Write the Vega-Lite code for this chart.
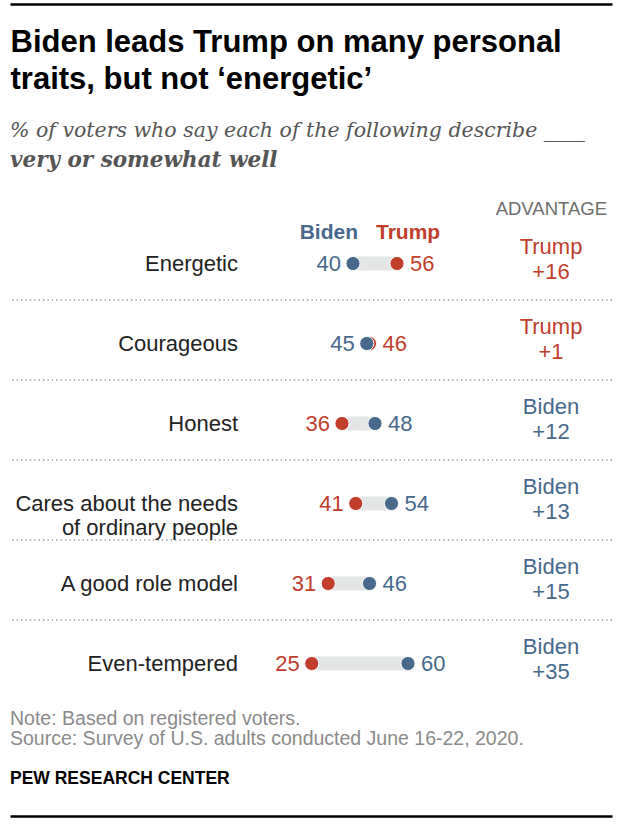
{
  "$schema": "https://vega.github.io/schema/vega-lite/v6.json",
  "background": "white",
  "padding": {"left": 9, "right": 8, "top": 4, "bottom": 8},
  "bounds": "flush",
  "spacing": 116,
  "config": {"font": "Liberation Sans", "view": {"stroke": null}},
  "datasets": {
    "pct": [
      {"trait": "Energetic", "candidate": "Trump", "pct": 56},
      {"trait": "Energetic", "candidate": "Biden", "pct": 40},
      {"trait": "Courageous", "candidate": "Trump", "pct": 46},
      {"trait": "Courageous", "candidate": "Biden", "pct": 45},
      {"trait": "Honest", "candidate": "Trump", "pct": 36},
      {"trait": "Honest", "candidate": "Biden", "pct": 48},
      {"trait": "Cares about the needs\nof ordinary people", "candidate": "Trump", "pct": 41},
      {"trait": "Cares about the needs\nof ordinary people", "candidate": "Biden", "pct": 54},
      {"trait": "A good role model", "candidate": "Trump", "pct": 31},
      {"trait": "A good role model", "candidate": "Biden", "pct": 46},
      {"trait": "Even-tempered", "candidate": "Trump", "pct": 25},
      {"trait": "Even-tempered", "candidate": "Biden", "pct": 60}
    ],
    "adv": [
      {"trait": "Energetic", "leader": "Trump", "lead": 16},
      {"trait": "Courageous", "leader": "Trump", "lead": 1},
      {"trait": "Honest", "leader": "Biden", "lead": 12},
      {"trait": "Cares about the needs\nof ordinary people", "leader": "Biden", "lead": 13},
      {"trait": "A good role model", "leader": "Biden", "lead": 15},
      {"trait": "Even-tempered", "leader": "Biden", "lead": 35}
    ]
  },
  "vconcat": [
    {
      "width": 602,
      "height": 100,
      "data": {"name": "pct"},
      "mark": {"type": "point", "opacity": 0},
      "encoding": {
        "x": {
          "field": "pct",
          "type": "quantitative",
          "axis": {
            "orient": "top",
            "domain": true,
            "domainColor": "#000000",
            "domainWidth": 2.5,
            "ticks": false,
            "labels": false,
            "grid": false,
            "title": ["Biden leads Trump on many personal", "traits, but not ‘energetic’"],
            "titleFont": "Liberation Sans",
            "titleFontSize": 31,
            "titleFontWeight": "bold",
            "titleColor": "#000000",
            "titleAlign": "left",
            "titleAnchor": "start",
            "titleBaseline": "top",
            "titleX": 0,
            "titleY": 23,
            "titleLineHeight": 37,
            "titleLimit": 1000
          }
        }
      },
      "title": {
        "text": "% of voters who say each of the following describe ____",
        "subtitle": "very or somewhat well",
        "orient": "bottom",
        "anchor": "start",
        "frame": "group",
        "offset": 17,
        "font": "DejaVu Serif",
        "fontSize": 20.5,
        "fontStyle": "italic",
        "fontWeight": "normal",
        "color": "#555555",
        "subtitleFont": "DejaVu Serif",
        "subtitleFontSize": 21.5,
        "subtitleFontStyle": "italic",
        "subtitleFontWeight": "bold",
        "subtitleColor": "#555555",
        "subtitlePadding": 8,
        "limit": 1000
      }
    },
    {
      "width": 602,
      "height": 480,
      "title": {
        "text": "ADVANTAGE",
        "orient": "top",
        "anchor": "end",
        "frame": "group",
        "dx": -5,
        "offset": 2,
        "font": "Liberation Sans",
        "fontSize": 18.5,
        "fontWeight": "normal",
        "color": "#6d6d6d"
      },
      "encoding": {
        "y": {
          "field": "trait",
          "type": "nominal",
          "sort": null,
          "scale": {
            "domain": ["Energetic", "Courageous", "Honest", "Cares about the needs\nof ordinary people", "A good role model", "Even-tempered"],
            "paddingInner": 0,
            "paddingOuter": 0
          },
          "axis": null
        }
      },
      "layer": [
        {
          "data": {"name": "adv"},
          "transform": [{"filter": "datum.trait != 'Even-tempered'"}],
          "mark": {"type": "rule", "color": "#999999", "strokeWidth": 1.4, "strokeDash": [1.4, 3]},
          "encoding": {
            "y": {
              "field": "trait",
              "type": "nominal",
              "sort": null,
              "bandPosition": 1,
              "axis": null
            }
          }
        },
        {
          "data": {"name": "pct"},
          "mark": {"type": "rule", "color": "#e3e5e6", "strokeWidth": 14, "yOffset": 3.5},
          "encoding": {
            "x": {
              "aggregate": "min",
              "field": "pct",
              "type": "quantitative",
              "scale": {"domain": [-84.73, 134.18], "nice": false, "zero": false},
              "axis": null
            },
            "x2": {"aggregate": "max", "field": "pct"}
          }
        },
        {
          "data": {"name": "pct"},
          "mark": {"type": "circle", "size": 200, "opacity": 1, "stroke": "white", "strokeWidth": 1, "yOffset": 3.5},
          "encoding": {
            "x": {"field": "pct", "type": "quantitative", "axis": null},
            "color": {
              "field": "candidate",
              "type": "nominal",
              "scale": {"domain": ["Biden", "Trump"], "range": ["#46698c", "#c13d2c"]},
              "legend": null
            }
          }
        },
        {
          "data": {"name": "pct"},
          "transform": [
            {"joinaggregate": [{"op": "min", "field": "pct", "as": "lo"}], "groupby": ["trait"]},
            {"filter": "datum.pct == datum.lo"}
          ],
          "mark": {"type": "text", "align": "right", "baseline": "middle", "dx": -12, "dy": 4, "fontSize": 22},
          "encoding": {
            "x": {"field": "pct", "type": "quantitative", "axis": null},
            "text": {"field": "pct", "type": "quantitative"},
            "color": {"field": "candidate", "type": "nominal", "legend": null}
          }
        },
        {
          "data": {"name": "pct"},
          "transform": [
            {"joinaggregate": [{"op": "max", "field": "pct", "as": "hi"}], "groupby": ["trait"]},
            {"filter": "datum.pct == datum.hi"}
          ],
          "mark": {"type": "text", "align": "left", "baseline": "middle", "dx": 13, "dy": 4, "fontSize": 22},
          "encoding": {
            "x": {"field": "pct", "type": "quantitative", "axis": null},
            "text": {"field": "pct", "type": "quantitative"},
            "color": {"field": "candidate", "type": "nominal", "legend": null}
          }
        },
        {
          "data": {"name": "adv"},
          "mark": {"type": "text", "align": "right", "baseline": "middle", "dx": -5, "dy": 3.5, "fontSize": 22, "color": "#222222", "lineBreak": "\n", "lineHeight": 24},
          "encoding": {
            "x": {"datum": 0, "type": "quantitative", "axis": null},
            "text": {"field": "trait", "type": "nominal"}
          }
        },
        {
          "data": {"name": "adv"},
          "mark": {"type": "text", "align": "center", "baseline": "middle", "dy": -13, "fontSize": 22},
          "encoding": {
            "x": {"datum": 112, "type": "quantitative", "axis": null},
            "text": {"field": "leader", "type": "nominal"},
            "color": {"field": "leader", "type": "nominal", "legend": null}
          }
        },
        {
          "data": {"name": "adv"},
          "mark": {"type": "text", "align": "center", "baseline": "middle", "dy": 12, "fontSize": 22},
          "encoding": {
            "x": {"datum": 112, "type": "quantitative", "axis": null},
            "text": {"field": "lead", "type": "quantitative", "format": "+d"},
            "color": {"field": "leader", "type": "nominal", "legend": null}
          }
        },
        {
          "data": {"name": "pct"},
          "transform": [{"filter": "datum.trait == 'Energetic' && datum.candidate == 'Biden'"}],
          "mark": {"type": "text", "align": "right", "baseline": "middle", "dx": 5, "dy": -27, "fontSize": 21, "fontWeight": "bold"},
          "encoding": {
            "x": {"field": "pct", "type": "quantitative", "axis": null},
            "text": {"field": "candidate", "type": "nominal"},
            "color": {"field": "candidate", "type": "nominal", "legend": null}
          }
        },
        {
          "data": {"name": "pct"},
          "transform": [{"filter": "datum.trait == 'Energetic' && datum.candidate == 'Trump'"}],
          "mark": {"type": "text", "align": "left", "baseline": "middle", "dx": -21, "dy": -27, "fontSize": 21, "fontWeight": "bold"},
          "encoding": {
            "x": {"field": "pct", "type": "quantitative", "axis": null},
            "text": {"field": "candidate", "type": "nominal"},
            "color": {"field": "candidate", "type": "nominal", "legend": null}
          }
        }
      ]
    },
    {
      "width": 602,
      "height": 1,
      "data": {"name": "pct"},
      "mark": {"type": "point", "opacity": 0},
      "encoding": {
        "x": {
          "field": "pct",
          "type": "quantitative",
          "axis": {
            "orient": "top",
            "domain": true,
            "domainColor": "#000000",
            "domainWidth": 2.5,
            "ticks": false,
            "labels": false,
            "grid": false,
            "title": null
          }
        }
      },
      "title": {
        "text": ["Note: Based on registered voters.", "Source: Survey of U.S. adults conducted June 16-22, 2020."],
        "subtitle": "PEW RESEARCH CENTER",
        "orient": "top",
        "anchor": "start",
        "frame": "group",
        "offset": 25,
        "font": "Liberation Sans",
        "fontSize": 19.5,
        "fontWeight": "normal",
        "color": "#8a8a8a",
        "lineHeight": 20,
        "subtitleFont": "Liberation Sans",
        "subtitleFontSize": 17.5,
        "subtitleFontWeight": "bold",
        "subtitleColor": "#000000",
        "subtitlePadding": 21,
        "limit": 1000
      }
    }
  ]
}
